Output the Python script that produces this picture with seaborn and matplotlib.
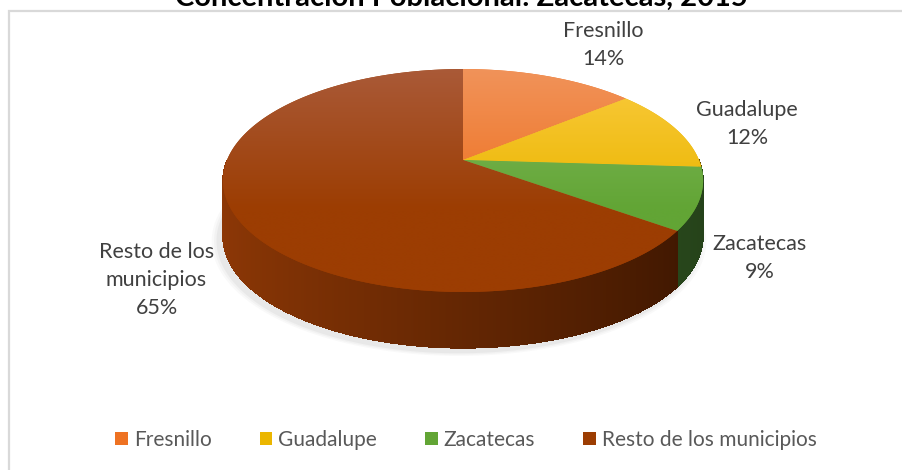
import numpy as np
import matplotlib.pyplot as plt
import matplotlib.colors as mcolors
from matplotlib.collections import PolyCollection
from matplotlib.patches import Rectangle, Polygon
import seaborn as sns

# datos
municipios = ['Fresnillo', 'Guadalupe', 'Zacatecas', 'Resto de los municipios']
etiquetas = ['Fresnillo', 'Guadalupe', 'Zacatecas', 'Resto de los\nmunicipios']
porcentajes = [14, 12, 9, 65]

# colores (cara superior y lado)
color_claro = ['#F1935A', '#FACB40', '#84BB60', '#AA5A38']
color_base = ['#EE7222', '#EBB600', '#62A535', '#9C3D02']
lado_izq = ['#A84F12', '#A57C00', '#3F6B24', '#8E3806']
lado_der = ['#5E2A06', '#5C4600', '#25421A', '#3A1500']

# desplazamiento de las etiquetas respecto al borde (pixeles)
offset_etiquetas = [(54, 31), (72, 5), (60, -59), (-77, -67)]

sns.set_theme(style='white')
plt.rcParams['font.family'] = ['Lato', 'DejaVu Sans']

W, H = 902, 470
# perspectiva del pastel 3D
CX, VY, A, B, K = 463, 160, 236, 107.7, 0.184
DEPTH = 56


def proyectar(u, v):
    den = 1 + K * v
    return CX + A * u / den, (H - VY) + B * v / den


fig = plt.figure(figsize=(W / 100, H / 100), dpi=100)
ax = fig.add_axes([0, 0, 1, 1])

# borde del area del grafico
fig.patches.append(Rectangle((9 / W, -0.1), 1.2, (1 - 11 / H) + 0.1, transform=fig.transFigure,
                             fill=False, edgecolor='#d9d9d9', lw=1.6, zorder=0))

wedges, _ = ax.pie(porcentajes, colors=color_base, startangle=90, counterclock=False,
                   radius=1, center=(0, 0), wedgeprops=dict(linewidth=0))

# sombra
t = np.linspace(0, 2 * np.pi, 300)
sx, sy = proyectar(np.cos(t), np.sin(t))
for k, a in enumerate([0.04, 0.05, 0.07]):
    g = 1 + 0.01 * (3 - k)
    ax.fill(CX + (sx - CX) * g - 4, (sy - (H - VY)) * g + (H - VY) - DEPTH - 4,
            color='#707070', alpha=a, lw=0, zorder=0.5)

# lado del pastel
polys, cols = [], []
for i, w in enumerate(wedges):
    angs = np.deg2rad(np.linspace(w.theta1, w.theta2, max(6, int(porcentajes[i] * 14))))
    for th1, th2 in zip(angs[:-1], angs[1:]):
        mid = (th1 + th2) / 2
        if np.sin(mid) > 0:
            continue
        x1, y1 = proyectar(np.cos(th1), np.sin(th1))
        x2, y2 = proyectar(np.cos(th2), np.sin(th2))
        polys.append([(x1, y1), (x2, y2), (x2, y2 - DEPTH), (x1, y1 - DEPTH)])
        f = (np.cos(mid) + 1) / 2
        c0 = np.array(mcolors.to_rgb(lado_izq[i]))
        c1 = np.array(mcolors.to_rgb(lado_der[i]))
        cols.append(c0 * (1 - f) + c1 * f)
ax.add_collection(PolyCollection(polys, facecolors=cols, edgecolors=cols, linewidths=0.25,
                                 antialiaseds=False, zorder=1))

# cara superior (cunas proyectadas)
caras = []
for i, w in enumerate(wedges):
    angs = np.deg2rad(np.linspace(w.theta1, w.theta2, 200))
    u = np.concatenate([[0], w.r * np.cos(angs)])
    v = np.concatenate([[0], w.r * np.sin(angs)])
    px, py = proyectar(u, v)
    cara = Polygon(np.column_stack([px, py]), closed=True, facecolor=color_base[i], lw=0, zorder=2)
    ax.add_patch(cara)
    caras.append(cara)
    c0 = np.array(mcolors.to_rgb(color_claro[i]))
    c1 = np.array(mcolors.to_rgb(color_base[i]))
    f = np.clip(np.linspace(0, 1.6, 100), 0, 1)[:, None]
    grad = (c0 * (1 - f) + c1 * f)[:, None, :]
    im = ax.imshow(grad, extent=(220, 706, H - 294, H - 67), aspect='auto', zorder=3,
                   interpolation='bilinear')
    im.set_clip_path(cara)
    w.remove()

# etiquetas de datos
for i, w in enumerate(caras):
    mid = np.deg2rad((wedges[i].theta1 + wedges[i].theta2) / 2)
    ax_, ay_ = proyectar(np.cos(mid), np.sin(mid))
    ax.annotate('{}\n{}%'.format(etiquetas[i], porcentajes[i]), xy=(ax_, ay_),
                xytext=offset_etiquetas[i], textcoords='offset pixels', ha='center', va='center',
                fontsize=15.5, color='#404040', linespacing=1.5, zorder=5)

ax.set_xlim(0, W)
ax.set_ylim(0, H)
ax.set_aspect('auto')
ax.axis('off')

# leyenda
leg = ax.legend(caras, municipios, loc='center', bbox_to_anchor=(466 / W, 1 - 440 / H),
                bbox_transform=fig.transFigure, ncol=4, frameon=False, fontsize=15,
                handlelength=0.6, handleheight=0.6, handletextpad=0.3, columnspacing=2.3)
for txt in leg.get_texts():
    txt.set_color('#595959')

# titulo (recortado en la parte superior, como en el original)
fig.text(461 / W, 1 - 6 / H, 'Concentración Poblacional: Zacatecas, 2015', ha='center', va='baseline',
         fontsize=21, fontweight='bold', color='black')

fig.savefig('out.png', dpi=100)
